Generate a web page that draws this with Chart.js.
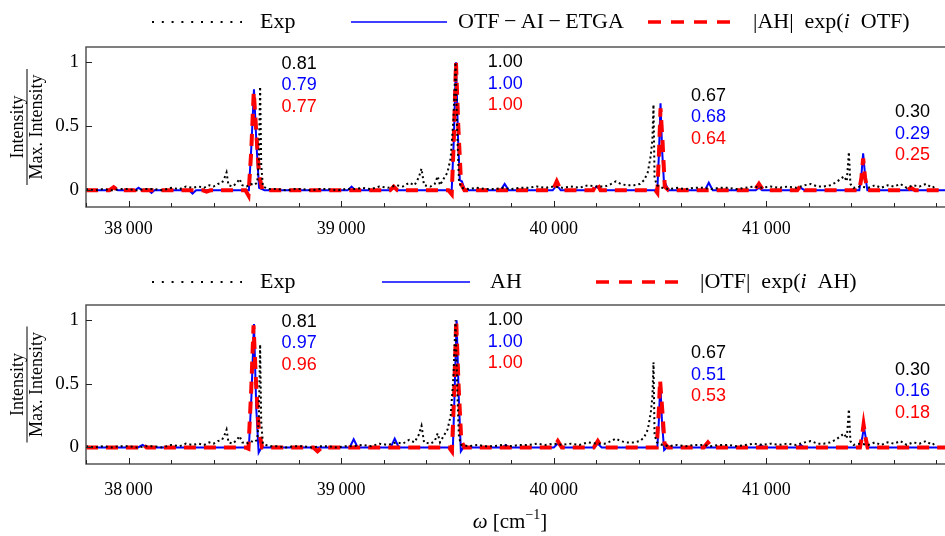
<!DOCTYPE html>
<html>
<head>
<meta charset="utf-8">
<script src="https://cdn.jsdelivr.net/npm/chart.js@4.4.1/dist/chart.umd.min.js"></script>
<style>
    body { margin: 0; background: #fff; }
    .panel { position: absolute; left: 0; }
</style>
</head>
<body>
<div class="panel" style="top:0"><canvas id="topChart" width="945" height="258"></canvas></div>
<div class="panel" style="top:258px"><canvas id="bottomChart" width="945" height="278"></canvas></div>
<script>
/*
    Two stacked spectra: experiment vs. two model spectra per panel
*/

// axis ranges and tick labels
const xMin = 37800;
const xMax = 41840;
const yMin = -0.13;
const yMax = 1.12;
const xTickVals = [38000, 39000, 40000, 41000];
const yTickVals = [0, 0.5, 1];

// experimental spectrum (same in both panels)
const wnExp = [
    37800, 37840, 37880, 37920, 37960, 38000, 38040, 38080, 38120, 38160,
    38200, 38240, 38270, 38300, 38330, 38355, 38380, 38400, 38420, 38440,
    38452, 38461, 38470, 38490, 38510, 38522, 38535, 38555, 38575, 38590,
    38605, 38613, 38619, 38624, 38632, 38660, 38700, 38740, 38780, 38820,
    38860, 38900, 38940, 38980, 39020, 39060, 39100, 39140, 39180, 39220,
    39260, 39290, 39320, 39345, 39365, 39378, 39390, 39420, 39440, 39454,
    39465, 39482, 39500, 39515, 39528, 39538, 39546, 39554, 39565, 39600,
    39640, 39680, 39720, 39760, 39800, 39840, 39880, 39920, 39960, 40000,
    40040, 40080, 40120, 40160, 40200, 40240, 40270, 40292, 40315, 40340,
    40377, 40405, 40425, 40442, 40456, 40464, 40469, 40474, 40485, 40510,
    40540, 40580, 40620, 40660, 40700, 40740, 40780, 40820, 40860, 40900,
    40940, 40980, 41020, 41060, 41100, 41140, 41180, 41209, 41240, 41270,
    41300, 41325, 41350, 41365, 41378, 41388, 41395, 41410, 41440, 41480,
    41510, 41540, 41570, 41600, 41630, 41660, 41690, 41720, 41750, 41780,
    41800
];
const yExp = [
    0.01, 0.00, 0.01, 0.00, 0.01, 0.01, 0.00, 0.01, 0.01, 0.00,
    0.02, 0.01, 0.03, 0.02, 0.03, 0.02, 0.04, 0.03, 0.05, 0.06,
    0.10, 0.14, 0.04, 0.03, 0.06, 0.09, 0.04, 0.03, 0.05, 0.04,
    0.06, 0.22, 0.81, 0.20, 0.03, 0.01, 0.01, 0.00, 0.01, 0.01,
    0.00, 0.01, 0.01, 0.00, 0.01, 0.01, 0.02, 0.01, 0.03, 0.02,
    0.04, 0.03, 0.06, 0.04, 0.10, 0.17, 0.04, 0.03, 0.05, 0.11,
    0.04, 0.09, 0.14, 0.25, 0.55, 1.00, 0.45, 0.08, 0.02, 0.01,
    0.02, 0.01, 0.01, 0.02, 0.01, 0.02, 0.02, 0.03, 0.02, 0.03,
    0.02, 0.03, 0.02, 0.04, 0.03, 0.03, 0.05, 0.07, 0.05, 0.04,
    0.04, 0.05, 0.08, 0.14, 0.27, 0.40, 0.67, 0.10, 0.04, 0.02,
    0.01, 0.02, 0.01, 0.02, 0.02, 0.01, 0.02, 0.02, 0.01, 0.02,
    0.03, 0.02, 0.03, 0.02, 0.03, 0.02, 0.04, 0.05, 0.03, 0.03,
    0.04, 0.06, 0.09, 0.11, 0.07, 0.30, 0.05, 0.02, 0.03, 0.02,
    0.04, 0.02, 0.04, 0.03, 0.05, 0.02, 0.04, 0.03, 0.05, 0.02,
    0.04
];

// top panel: OTF-AI-ETGA (blue)
const wnTopBlue = [
    37800, 37910, 37930, 37950, 38030, 38047, 38065, 38095, 38108, 38122,
    38285, 38301, 38318, 38566, 38578, 38590, 38602, 38614, 38640, 39030,
    39049, 39068, 39230, 39247, 39265, 39520, 39530, 39540, 39550, 39558,
    39568, 39582, 39750, 39769, 39788, 39995, 40014, 40033, 40185, 40202,
    40220, 40487, 40495, 40502, 40510, 40518, 40526, 40540, 40710, 40729,
    40748, 40950, 40965, 40980, 41145, 41162, 41180, 41437, 41447, 41455,
    41464, 41475, 41850
];
const yTopBlue = [
    0, 0, 0.02, 0, 0, 0.02, 0, 0, -0.02, 0,
    0, -0.025, 0, 0, 0.35, 0.79, 0.35, 0.02, 0, 0,
    0.03, 0, 0, 0.02, 0, 0, 0.4, 1.00, 0.4, 0.08,
    0.07, 0, 0, 0.05, 0, 0, 0.04, 0, 0, 0.03,
    0, 0, 0.3, 0.68, 0.3, 0.07, 0.05, 0, 0, 0.06,
    0, 0, 0.02, 0, 0, 0.02, 0, 0, 0.12, 0.29,
    0.12, 0, 0
];

// top panel: |AH| exp(i OTF) (red)
const wnTopRed = [
    37800, 37910, 37930, 37950, 38030, 38047, 38065, 38350, 38367, 38385,
    38550, 38564, 38577, 38589, 38601, 38614, 38630, 39230, 39247, 39265,
    39505, 39520, 39530, 39540, 39551, 39564, 39580, 39995, 40014, 40033,
    40185, 40202, 40220, 40478, 40487, 40495, 40502, 40511, 40522, 40540,
    40945, 40965, 40985, 41145, 41162, 41180, 41437, 41447, 41455, 41464,
    41475, 41660, 41680, 41700, 41850
];
const yTopRed = [
    0, 0, 0.025, 0, 0, 0.025, 0, 0, -0.01, 0,
    0, -0.04, 0.3, 0.77, 0.45, 0.12, 0, 0, 0.03, 0,
    0, -0.03, 0.4, 1.00, 0.5, 0.05, 0, 0, 0.07, 0,
    0, 0.06, 0, 0, -0.02, 0.3, 0.64, 0.4, 0.03, 0,
    0, 0.05, 0, 0, 0.04, 0, 0, 0.1, 0.25, 0.1,
    0, 0, 0.02, 0, 0
];

// bottom panel: AH (blue)
const wnBotBlue = [
    37800, 38045, 38066, 38085, 38566, 38578, 38590, 38601, 38612, 38625,
    39040, 39059, 39078, 39233, 39252, 39271, 39515, 39525, 39533, 39543,
    39553, 39563, 39575, 39758, 39774, 39790, 40000, 40019, 40038, 40190,
    40207, 40225, 40487, 40494, 40501, 40509, 40519, 40532, 40958, 40974,
    40990, 41146, 41162, 41178, 41440, 41450, 41459, 41468, 41478, 41850
];
const yBotBlue = [
    0, 0, 0.02, 0, 0, 0.4, 0.97, 0.3, -0.04, 0,
    0, 0.065, 0, 0, 0.07, 0, 0, -0.03, 0.4, 1.00,
    0.4, -0.03, 0, 0, 0.02, 0, 0, 0.03, 0, 0,
    0.03, 0, 0, 0.2, 0.51, 0.2, -0.02, 0, 0, 0.02,
    0, 0, 0.02, 0, 0, 0.07, 0.16, 0.07, 0, 0
];

// bottom panel: |OTF| exp(i AH) (red)
const wnBotRed = [
    37800, 38045, 38066, 38085, 38550, 38564, 38577, 38588, 38600, 38612,
    38628, 38870, 38889, 38910, 39508, 39521, 39531, 39541, 39552, 39565,
    39580, 40000, 40019, 40038, 40188, 40207, 40226, 40484, 40493, 40500,
    40510, 40521, 40538, 40705, 40725, 40745, 41440, 41449, 41457, 41466,
    41476, 41850
];
const yBotRed = [
    0, 0, 0.025, 0, 0, -0.01, 0.45, 0.96, 0.5, 0.15,
    0, 0, -0.03, 0, 0, -0.03, 0.4, 1.00, 0.5, 0.05,
    0, 0, 0.05, 0, 0, 0.05, 0, 0, 0.25, 0.53,
    0.3, 0.03, 0, 0, 0.04, 0, 0, 0.08, 0.18, 0.08,
    0, 0
];

// peak intensity ratios written next to each band
const expRatio = ['0.81', '1.00', '0.67', '0.30'];
const topBlueRatio = ['0.79', '1.00', '0.68', '0.29'];
const topRedRatio = ['0.77', '1.00', '0.64', '0.25'];
const botBlueRatio = ['0.97', '1.00', '0.51', '0.16'];
const botRedRatio = ['0.96', '1.00', '0.53', '0.18'];

const SERIF = '"Liberation Serif", "DejaVu Serif", serif';
const SANS = '"Liberation Sans", Arial, sans-serif';

function pts(xs, ys) {
    return xs.map((x, i) => ({ x: x, y: ys[i] }));
}

// draw text made of [string, italic] parts, returns width
function richText(ctx, parts, x, y, size, measureOnly) {
    let cx = x;
    parts.forEach(p => {
        ctx.font = (p[1] ? 'italic ' : '') + size + 'px ' + SERIF;
        if (!measureOnly) ctx.fillText(p[0], cx, y);
        cx += ctx.measureText(p[0]).width;
    });
    return cx - x;
}

function lineSample(ctx, kind, x1, x2, y) {
    ctx.save();
    ctx.beginPath();
    if (kind === 'exp') {
        ctx.strokeStyle = '#000'; ctx.lineWidth = 2; ctx.setLineDash([2, 7.8]);
    } else if (kind === 'blue') {
        ctx.strokeStyle = '#0000ff'; ctx.lineWidth = 1.6;
    } else {
        ctx.strokeStyle = '#ff0000'; ctx.lineWidth = 3.5; ctx.setLineDash([13, 10]);
    }
    ctx.moveTo(x1, y);
    ctx.lineTo(x2, y);
    ctx.stroke();
    ctx.restore();
}

const decor = {
    id: 'decor',
    afterDraw(chart, args, opts) {
        const ctx = chart.ctx;
        const a = chart.chartArea;
        const xs = chart.scales.x;
        const ys = chart.scales.y;
        ctx.save();

        // frame
        ctx.strokeStyle = '#555';
        ctx.lineWidth = 1.5;
        ctx.strokeRect(a.left, a.top, a.right - a.left + 10, a.bottom - a.top);

        // inward ticks
        ctx.strokeStyle = '#222';
        ctx.lineWidth = 1;
        for (let v = 37800; v <= xMax; v += 200) {
            const px = Math.round(xs.getPixelForValue(v)) + 0.5;
            const len = v % 1000 === 0 ? 6 : 4;
            ctx.beginPath();
            ctx.moveTo(px, a.bottom);
            ctx.lineTo(px, a.bottom - len);
            ctx.stroke();
        }
        yTickVals.forEach(v => {
            const py = Math.round(ys.getPixelForValue(v)) + 0.5;
            ctx.beginPath();
            ctx.moveTo(a.left, py);
            ctx.lineTo(a.left + 6, py);
            ctx.stroke();
        });

        // ratio labels
        ctx.font = '18px ' + SANS;
        ctx.textAlign = 'left';
        ctx.textBaseline = 'middle';
        const cols = ['#000000', '#0000ff', '#ff0000'];
        opts.ratios.forEach((list, row) => {
            ctx.fillStyle = cols[row];
            list.forEach((txt, i) => {
                const px = xs.getPixelForValue(opts.labelX[i]);
                const py = ys.getPixelForValue(opts.labelY[i]) + row * 21.5;
                ctx.fillText(txt, px, py);
            });
        });

        // legend above the panel
        ctx.fillStyle = '#000';
        ctx.textBaseline = 'middle';
        opts.legend.forEach(e => {
            lineSample(ctx, e.kind, e.x1, e.x2, opts.legendY);
            richText(ctx, e.parts, e.tx, opts.legendY, 22);
        });

        // y-axis title as a fraction
        ctx.save();
        ctx.translate(27, (a.top + a.bottom) / 2);
        ctx.rotate(-Math.PI / 2);
        ctx.font = '18px ' + SERIF;
        ctx.textAlign = 'center';
        ctx.textBaseline = 'alphabetic';
        ctx.fillText('Intensity', 0, -4);
        ctx.fillText('Max. Intensity', 0, 15);
        ctx.lineWidth = 1;
        ctx.strokeStyle = '#000';
        ctx.beginPath();
        ctx.moveTo(-58, 0);
        ctx.lineTo(58, 0);
        ctx.stroke();
        ctx.restore();

        // x-axis title
        if (opts.xTitle) {
            ctx.textAlign = 'left';
            ctx.textBaseline = 'alphabetic';
            const y0 = opts.xTitleY;
            const w1 = richText(ctx, [['\u03c9', 1], [' [cm', 0]], 0, 0, 21, true);
            ctx.font = '14px ' + SERIF;
            const wSup = ctx.measureText('\u22121').width;
            ctx.font = '21px ' + SERIF;
            const wEnd = ctx.measureText(']').width;
            let x0 = 510 - (w1 + wSup + wEnd) / 2;
            x0 += richText(ctx, [['\u03c9', 1], [' [cm', 0]], x0, y0, 21);
            ctx.font = '14px ' + SERIF;
            ctx.fillText('\u22121', x0, y0 - 9);
            x0 += wSup;
            ctx.font = '21px ' + SERIF;
            ctx.fillText(']', x0, y0);
        }
        ctx.restore();
    }
};

function makeChart(id, blue, red, cfg) {
    const ctx = document.getElementById(id);
    return new Chart(ctx, {
        type: 'line',
        data: {
            datasets: [
                {
                    label: 'Exp',
                    data: pts(wnExp, yExp),
                    borderColor: '#000',
                    borderWidth: 2,
                    borderDash: [2, 3],
                    pointRadius: 0,
                    tension: 0,
                    fill: false,
                    order: 0
                },
                {
                    label: blue.label,
                    data: pts(blue.x, blue.y),
                    borderColor: '#0000ff',
                    borderWidth: 2,
                    pointRadius: 0,
                    tension: 0,
                    fill: false,
                    order: 2
                },
                {
                    label: red.label,
                    data: pts(red.x, red.y),
                    borderColor: '#ff0000',
                    borderWidth: 4,
                    borderDash: [12, 8],
                    pointRadius: 0,
                    tension: 0,
                    fill: false,
                    order: 1
                }
            ]
        },
        options: {
            responsive: false,
            animation: false,
            layout: { padding: { top: 47, left: 0, right: 0, bottom: 0 } },
            scales: {
                x: {
                    type: 'linear',
                    min: xMin,
                    max: xMax,
                    grid: { display: false, drawTicks: false },
                    border: { display: false },
                    afterBuildTicks: ax => { ax.ticks = xTickVals.map(v => ({ value: v })); },
                    afterFit: ax => { ax.height = cfg.xHeight; },
                    ticks: {
                        padding: cfg.tickPad,
                        color: '#000',
                        maxRotation: 0,
                        font: { family: SERIF, size: 18 },
                        callback: v => String(v).replace(/(\d{2})(\d{3})/, '$1\u2009$2')
                    }
                },
                y: {
                    min: yMin,
                    max: yMax,
                    grid: { display: false, drawTicks: false },
                    border: { display: false },
                    afterBuildTicks: ax => { ax.ticks = yTickVals.map(v => ({ value: v })); },
                    afterFit: ax => { ax.width = 86; },
                    ticks: {
                        padding: 7,
                        color: '#000',
                        font: { family: SERIF, size: 19 },
                        callback: v => String(v)
                    }
                }
            },
            plugins: {
                legend: { display: false },
                tooltip: { enabled: false },
                decor: cfg.decor
            }
        },
        plugins: [decor]
    });
}

const labelX = [38720, 39689, 40645, 41605];
const labelY = [0.99, 1.0, 0.74, 0.61];

makeChart('topChart',
    { label: 'OTF\u2212AI\u2212ETGA', x: wnTopBlue, y: yTopBlue },
    { label: '|AH| exp(i OTF)', x: wnTopRed, y: yTopRed },
    {
        xHeight: 51,
        tickPad: 11,
        decor: {
            ratios: [expRatio, topBlueRatio, topRedRatio],
            labelX: labelX,
            labelY: labelY,
            legendY: 22,
            legend: [
                { kind: 'exp', x1: 152, x2: 242, tx: 260, parts: [['Exp', 0]] },
                { kind: 'blue', x1: 351, x2: 447, tx: 458,
                  parts: [['OTF\u2009\u2212\u2009AI\u2009\u2212\u2009ETGA', 0]] },
                { kind: 'red', x1: 648, x2: 731, tx: 753,
                  parts: [['|AH|\u2002exp(', 0], ['i', 1], ['\u2002OTF)', 0]] }
            ],
            xTitle: false
        }
    });

makeChart('bottomChart',
    { label: 'AH', x: wnBotBlue, y: yBotBlue },
    { label: '|OTF| exp(i AH)', x: wnBotRed, y: yBotRed },
    {
        xHeight: 72,
        tickPad: 15,
        decor: {
            ratios: [expRatio, botBlueRatio, botRedRatio],
            labelX: labelX,
            labelY: labelY,
            legendY: 24,
            legend: [
                { kind: 'exp', x1: 152, x2: 242, tx: 260, parts: [['Exp', 0]] },
                { kind: 'blue', x1: 382, x2: 470, tx: 490, parts: [['AH', 0]] },
                { kind: 'red', x1: 596, x2: 680, tx: 700,
                  parts: [['|OTF|\u2002exp(', 0], ['i', 1], ['\u2002AH)', 0]] }
            ],
            xTitle: true,
            xTitleY: 270
        }
    });
</script>
</body>
</html>
